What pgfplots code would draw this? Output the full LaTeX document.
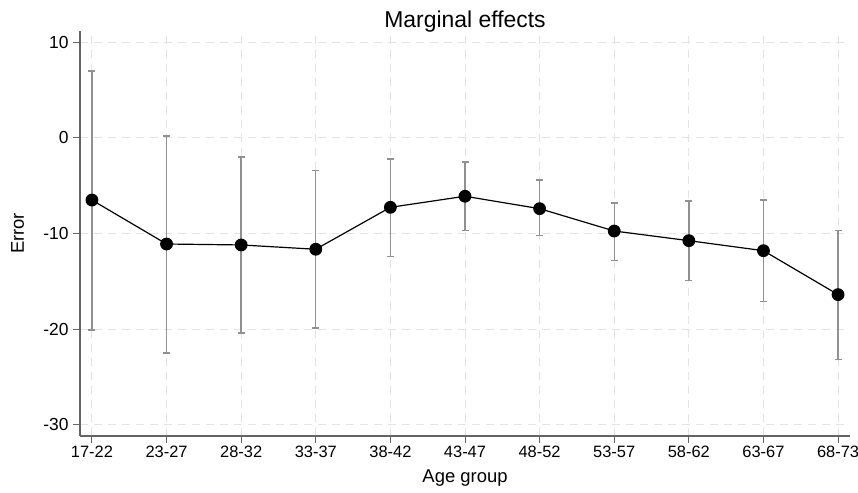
\documentclass[border=0pt]{standalone}
\usepackage{pgfplots}
\pgfplotsset{compat=1.18}
\usepackage{pgfplotstable}
\usepackage{fontspec}
\setmainfont{Liberation Sans}
\definecolor{axgray}{RGB}{100,100,100}
\definecolor{cigray}{RGB}{145,145,145}
\definecolor{gridgray}{RGB}{228,228,228}

\pgfplotstableread{
x  y      lo     hi
0  -6.5   -20.1  7.0
1  -11.1  -22.5  0.2
2  -11.2  -20.4  -2.0
3  -11.65 -19.9  -3.4
4  -7.26  -12.4  -2.2
5  -6.1   -9.7   -2.5
6  -7.4   -10.2  -4.4
7  -9.74  -12.8  -6.8
8  -10.75 -14.9  -6.6
9  -11.8  -17.1  -6.5
10 -16.4  -23.2  -9.7
}\data

\begin{document}
\begin{tikzpicture}
\begin{axis}[
  at={(0,0)}, anchor=south west,
  scale only axis,
  width=770bp, height=405bp,
  xmin=-0.16, xmax=10.16,
  ymin=-31.2, ymax=11.2,
  axis lines*=left,
  axis line style={axgray, line width=1.1pt},
  xtick={0,...,10},
  xticklabels={17-22,23-27,28-32,33-37,38-42,43-47,48-52,53-57,58-62,63-67,68-73},
  ytick={-30,-20,-10,0,10},
  tick style={axgray, line width=1pt},
  tick align=outside,
  major tick length=7bp,
  /pgf/number format/assume math mode=true,
  ticklabel style={font=\fontsize{16.5}{18}\selectfont, text=black},
  yticklabel style={font=\fontsize{17.5}{19}\selectfont, xshift=-1bp},
  grid=major,
  major grid style={gridgray, line width=1pt, dash pattern=on 8bp off 6bp},
  xlabel={Age group},
  ylabel={Error},
  label style={font=\fontsize{18.5}{20}\selectfont},
  xlabel style={at={(axis description cs:0.5,-0.104)}, anchor=center},
  ylabel style={at={(axis description cs:-0.081,0.5)}, anchor=center, rotate=0},
  title={Marginal effects},
  title style={font=\fontsize{23}{25}\selectfont, at={(axis description cs:0.5,1.03)}, anchor=center, yshift=-9bp},
  clip=false,
]
\addplot[draw=none, mark=none, forget plot,
  error bars/.cd, y dir=both, y explicit,
  error bar style={cigray, line width=1.4pt},
  error mark options={rotate=90, mark size=3.5bp, cigray, line width=1.4pt}]
  table[x=x, y=y, y error plus expr=\thisrow{hi}-\thisrow{y}, y error minus expr=\thisrow{y}-\thisrow{lo}] {\data};
\addplot[black, line width=1.2pt, mark=*, mark size=5.8bp, mark options={fill=black}]
  table[x=x, y=y] {\data};
\end{axis}
\pgfresetboundingbox
\path (-80bp,-57bp) rectangle (778bp,436bp);
\end{tikzpicture}
\end{document}
